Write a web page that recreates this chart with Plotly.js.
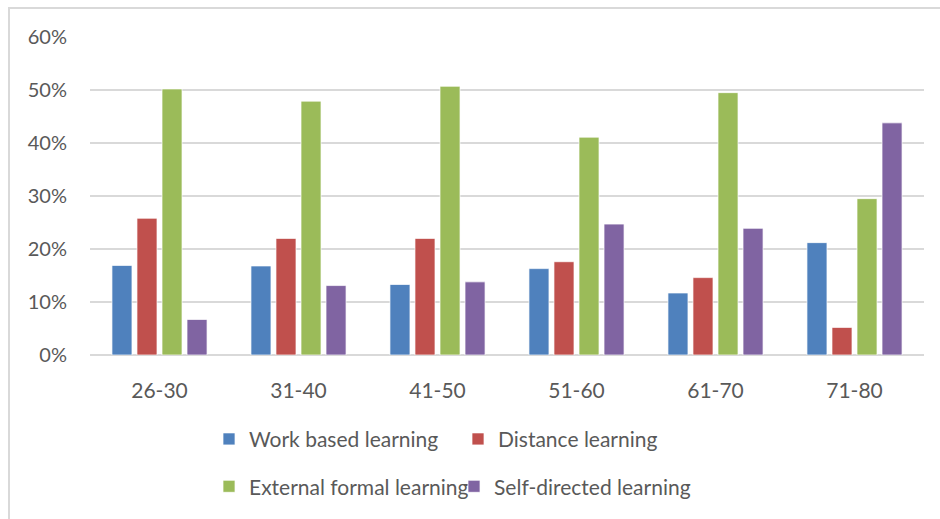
<!DOCTYPE html>
<html>
<head>
<meta charset="utf-8">
<script src="https://cdn.plot.ly/plotly-3.0.1.min.js"></script>
<style>
  html, body { margin: 0; padding: 0; background: #ffffff; }
  #frame {
    position: absolute; left: 8px; top: 7px; width: 940px; height: 519px;
    border-left: 2px solid #d9d9d9; border-top: 2px solid #d9d9d9;
    box-sizing: border-box;
  }
  #chart { position: absolute; left: 0; top: 0; width: 940px; height: 519px; }
</style>
</head>
<body>
<div id="frame"></div>
<div id="chart"></div>
<script>
// Age groups on the category axis
const ageGroups = ['26-30', '31-40', '41-50', '51-60', '61-70', '71-80'];

// Share of respondents (%) by type of learning
const workBased      = [16.9, 16.8, 13.3, 16.3, 11.7, 21.2];
const distance       = [25.8, 22.0, 22.0, 17.6, 14.6, 5.2];
const externalFormal = [50.2, 47.9, 50.7, 41.1, 49.5, 29.5];
const selfDirected   = [6.7, 13.1, 13.8, 24.7, 23.9, 43.8];

const yTicks = [0, 10, 20, 30, 40, 50, 60];
const yTickLabels = ['0%', '10%', '20%', '30%', '40%', '50%', '60%'];

const font = 'Lato, "Open Sans", sans-serif';
const textColor = '#595959';

function barTrace(name, values, color, legendId) {
  return {
    type: 'bar', name: name, x: ageGroups, y: values,
    marker: { color: color, line: { color: 'rgba(255,255,255,0.7)', width: 1 } },
    legend: legendId,
    hoverinfo: 'x+y+name'
  };
}

const data = [
  barTrace('Work based learning', workBased, '#4F81BD', 'legend'),
  barTrace('Distance learning', distance, '#C0504D', 'legend'),
  barTrace('External formal learning', externalFormal, '#9BBB59', 'legend2'),
  barTrace('Self-directed learning', selfDirected, '#8064A2', 'legend2')
];

const legendBase = {
  orientation: 'h', xanchor: 'left', yanchor: 'middle',
  font: { family: font, size: 21, color: textColor },
  bgcolor: 'rgba(0,0,0,0)', borderwidth: 0,
  entrywidthmode: 'pixels'
};

const layout = {
  width: 940, height: 519,
  margin: { l: 90, r: 16, t: 37, b: 161 },
  paper_bgcolor: 'rgba(0,0,0,0)', plot_bgcolor: 'rgba(0,0,0,0)',
  barmode: 'group', bargap: 0.28, bargroupgap: 0.2,
  font: { family: font, color: textColor },
  xaxis: {
    type: 'category', showgrid: false, showline: false, zeroline: false,
    ticks: '', tickfont: { family: font, size: 21, color: textColor },
    ticklabelstandoff: 21
  },
  yaxis: {
    range: [0, 60], tickmode: 'array', tickvals: yTicks, ticktext: yTickLabels,
    showgrid: true, gridcolor: '#d9d9d9', gridwidth: 1.5,
    zeroline: true, zerolinecolor: '#d9d9d9', zerolinewidth: 2,
    showline: false, ticks: '',
    tickfont: { family: font, size: 20, color: textColor },
    ticklabelstandoff: 22
  },
  legend: Object.assign({}, legendBase, { x: 0.1427, y: -0.265, entrywidth: 204 }),
  legend2: Object.assign({}, legendBase, { x: 0.1427, y: -0.414, entrywidth: 200 }),
  showlegend: true
};

Plotly.newPlot('chart', data, layout, { displayModeBar: false, staticPlot: true });
</script>
</body>
</html>
